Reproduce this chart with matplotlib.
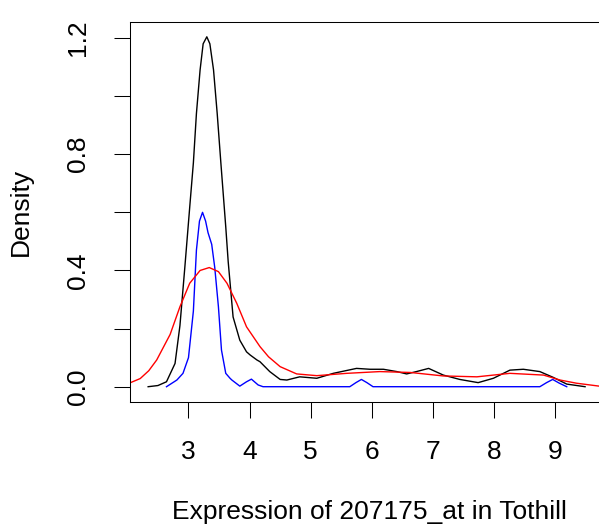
import matplotlib
matplotlib.use("Agg")
import matplotlib.pyplot as plt

plt.rcParams["font.family"] = ["Liberation Sans", "DejaVu Sans"]

# density curves
black_x = [2.34, 2.50, 2.64, 2.78, 2.86, 2.94, 3.025, 3.08, 3.13, 3.19, 3.24, 3.30, 3.35,
           3.41, 3.47, 3.53, 3.57, 3.61, 3.65, 3.73, 3.84, 3.95, 4.01, 4.12, 4.17, 4.33,
           4.50, 4.61, 4.82, 5.10, 5.37, 5.75, 5.97, 6.19, 6.41, 6.57, 6.73, 6.93, 7.17,
           7.44, 7.74, 7.99, 8.26, 8.48, 8.75, 8.97, 9.19, 9.49]
black_y = [0.0, 0.004, 0.017, 0.08, 0.21, 0.41, 0.63, 0.77, 0.94, 1.09, 1.18, 1.204, 1.18,
           1.09, 0.94, 0.77, 0.66, 0.55, 0.43, 0.24, 0.16, 0.12, 0.109, 0.092, 0.086, 0.052,
           0.025, 0.023, 0.034, 0.029, 0.046, 0.063, 0.060, 0.060, 0.052, 0.044, 0.052, 0.063, 0.040,
           0.025, 0.014, 0.029, 0.057, 0.060, 0.052, 0.032, 0.009, 0.0]

blue_x = [2.64, 2.81, 2.91, 3.00, 3.08, 3.13, 3.18, 3.23, 3.28, 3.32, 3.38, 3.43, 3.49,
          3.54, 3.61, 3.68, 3.71, 3.84, 3.95, 4.03, 4.14, 4.22, 5.64, 5.74, 5.83, 5.92, 6.02,
          8.75, 8.86, 8.96, 9.07, 9.19]
blue_y = [0.0, 0.023, 0.046, 0.10, 0.26, 0.47, 0.57, 0.60, 0.57, 0.53, 0.49, 0.41, 0.275,
          0.126, 0.046, 0.029, 0.023, 0.002, 0.017, 0.026, 0.006, 0.0, 0.0, 0.014, 0.025, 0.014, 0.0,
          0.0, 0.014, 0.025, 0.012, 0.0]

red_x = [2.04, 2.21, 2.35, 2.48, 2.70, 2.86, 3.02, 3.19, 3.34, 3.49, 3.63, 3.79, 3.95,
         4.17, 4.31, 4.50, 4.77, 5.10, 5.59, 6.13, 6.63, 7.17, 7.72, 8.26, 8.81, 9.08,
         9.35, 9.72]
red_y = [0.013, 0.028, 0.055, 0.092, 0.18, 0.275, 0.356, 0.40, 0.41, 0.396, 0.356, 0.287, 0.206,
         0.138, 0.103, 0.069, 0.044, 0.038, 0.046, 0.052, 0.049, 0.037, 0.034, 0.046, 0.040, 0.023,
         0.012, 0.002]

x_ticks = [3, 4, 5, 6, 7, 8, 9]
y_ticks = [0.0, 0.2, 0.4, 0.6, 0.8, 1.0, 1.2]
y_labels = ["0.0", "", "0.4", "", "0.8", "", "1.2"]

W, H = 599, 527
fig = plt.figure(figsize=(W / 100, H / 100), dpi=100)
ax = fig.add_axes([130 / W, 1 - 401.7 / H, (W - 130) / W, (401.7 - 22) / H])

ax.plot(black_x, black_y, color="black", lw=1.0)
ax.plot(blue_x, blue_y, color="blue", lw=1.0)
ax.plot(red_x, red_y, color="red", lw=1.0)

ax.set_xlim(2.043, 9.718)
ax.set_ylim(-0.0516, 1.255)
ax.set_xticks(x_ticks)
ax.set_yticks(y_ticks)
ax.set_yticklabels(y_labels, rotation=90, va="center")
ax.tick_params(axis="both", length=11.5, width=0.75, labelsize=19, direction="out")
ax.tick_params(axis="x", pad=16)
ax.tick_params(axis="y", pad=17)
ax.spines["right"].set_visible(False)
for s in ["left", "top", "bottom"]:
    ax.spines[s].set_linewidth(0.75)

fig.text(369 / W, 1 - 512 / H, "Expression of 207175_at in Tothill", fontsize=19,
         ha="center", va="center")
fig.text(21 / W, 1 - 212 / H, "Density", fontsize=19, rotation=90,
         ha="center", va="center")

fig.savefig("out.png", dpi=100)
